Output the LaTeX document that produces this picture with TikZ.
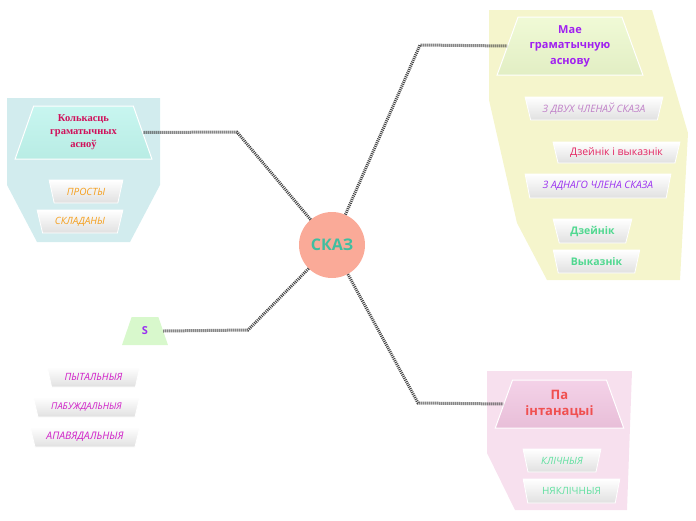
\documentclass[tikz,border=0pt]{standalone}
\usepackage{fontspec}
\setmainfont{Open Sans}
\newfontfamily\serifbold{Liberation Serif}
\usetikzlibrary{shapes.geometric}
\definecolor{skazfill}{RGB}{250,170,152}
\definecolor{skaztext}{RGB}{64,190,160}
\definecolor{bgcyan}{RGB}{210,236,238}
\definecolor{bgyellow}{RGB}{245,245,204}
\definecolor{bgpink}{RGB}{247,224,238}
\definecolor{linkgray}{RGB}{70,70,70}
\definecolor{purpleA}{RGB}{160,32,240}
\definecolor{lilac}{RGB}{192,128,200}
\definecolor{crimson}{RGB}{228,40,100}
\definecolor{violet}{RGB}{154,48,240}
\definecolor{mint}{RGB}{80,216,144}
\definecolor{crimsonB}{RGB}{208,16,90}
\definecolor{amber}{RGB}{245,160,32}
\definecolor{magentaC}{RGB}{208,32,200}
\definecolor{redD}{RGB}{240,80,80}
\definecolor{mintD}{RGB}{96,224,160}
\begin{document}
\begin{tikzpicture}[
  x=1pt, y=-1pt,
  every node/.style={inner sep=1pt, font=\fontsize{10}{12}\selectfont},
  hdr/.style={trapezium, trapezium stretches=true, draw=white, line width=1pt,
    align=center, font=\fontsize{11}{13.5}\selectfont\bfseries},
  leaf/.style={trapezium, trapezium stretches=true, shape border rotate=180,
    trapezium left angle=71, trapezium right angle=71, draw=white, line width=0.8pt,
    top color=white, bottom color=black!12, minimum height=23pt},
  link/.style={draw=linkgray, line width=3pt, dash pattern=on 1pt off 1pt}
]
\useasboundingbox (0,0) rectangle (696,520);
\fill[bgyellow] (489,10) -- (652,10) -- (688,133) -- (680,280) -- (547,280)
  -- (517,223) -- (489,100) -- cycle;
\fill[bgcyan] (7,98) -- (160,98) -- (160,185) -- (130,242) -- (37,242)
  -- (7,185) -- cycle;
\fill[bgpink] (487,371) -- (632,371) -- (627,510) -- (515,510) -- (487,453) -- cycle;

\node[circle, fill=skazfill, minimum size=66pt, text=skaztext,
  font=\fontsize{16}{18}\selectfont\bfseries] (skaz) at (332,245) {СКАЗ};

\node[hdr, trapezium left angle=69, trapezium right angle=69,
  minimum width=146pt, minimum height=58pt,
  top color={rgb,255:red,240;green,250;blue,214}, bottom color={rgb,255:red,226;green,238;blue,196},
  text=purpleA, font=\fontsize{11}{15.5}\selectfont\bfseries]
  (mae) at (570,46) {Мае\\граматычную\\аснову};
\node[leaf, minimum width=138pt, text=lilac, font=\fontsize{10.2}{12}\selectfont\itshape]
  (dvuh) at (594,108.5) {З ДВУХ ЧЛЕНАЎ СКАЗА};
\node[leaf, minimum width=127pt, minimum height=21pt, text=crimson,
  font=\fontsize{10.5}{12}\selectfont] (dzvyk) at (616.5,152.5) {Дзейнік і выказнік};
\node[leaf, minimum width=146pt, minimum height=24pt, text=violet,
  font=\fontsize{10.2}{12}\selectfont\itshape] (adnago) at (598,186) {З АДНАГО ЧЛЕНА СКАЗА};
\node[leaf, minimum width=79pt, minimum height=24pt, text=mint,
  font=\fontsize{10.5}{12}\selectfont\bfseries] (dzeinik) at (592.5,231) {Дзейнік};
\node[leaf, minimum width=87pt, text=mint,
  font=\fontsize{10.5}{12}\selectfont\bfseries] (vykaznik) at (596.5,261.5) {Выказнік};

\node[hdr, trapezium left angle=71, trapezium right angle=71,
  minimum width=137pt, minimum height=53pt,
  top color={rgb,255:red,200;green,246;blue,240}, bottom color={rgb,255:red,184;green,236;blue,228},
  text=crimsonB, font=\fontsize{10.5}{13}\selectfont\serifbold\bfseries]
  (kolkasc) at (83.5,132.5) {Колькасць\\граматычных\\асноў};
\node[leaf, minimum width=74pt, text=amber, font=\fontsize{10}{12}\selectfont\itshape]
  (prosty) at (86,191.5) {ПРОСТЫ};
\node[leaf, minimum width=86pt, text=amber, font=\fontsize{10}{12}\selectfont\itshape]
  (skladany) at (80,221.5) {СКЛАДАНЫ};

\node[trapezium, trapezium stretches=true, trapezium left angle=74, trapezium right angle=74,
  minimum width=46pt, minimum height=28pt, fill={rgb,255:red,216;green,248;blue,204},
  text=violet, font=\fontsize{11}{13}\selectfont\bfseries] (meta) at (145,331) {S};
\node[leaf, minimum width=93pt, minimum height=20pt, text=magentaC,
  font=\fontsize{10}{12}\selectfont\itshape] (pytalnyja) at (93.5,377) {ПЫТАЛЬНЫЯ};
\node[leaf, minimum width=107pt, minimum height=20pt, text=magentaC,
  font=\fontsize{9.3}{11}\selectfont\itshape] (pabuzh) at (86.5,407) {ПАБУЖДАЛЬНЫЯ};
\node[leaf, minimum width=110pt, minimum height=20pt, text=magentaC,
  font=\fontsize{10.4}{12}\selectfont\itshape] (apavjad) at (85,437) {АПАВЯДАЛЬНЫЯ};

\node[hdr, trapezium left angle=67, trapezium right angle=67,
  minimum width=129pt, minimum height=48pt,
  top color={rgb,255:red,244;green,210;blue,232}, bottom color={rgb,255:red,232;green,190;blue,216},
  text=redD, font=\fontsize{13}{16.5}\selectfont\bfseries] (intan) at (559.5,404) {Па\\інтанацыі};
\node[leaf, minimum width=78pt, text=mintD, font=\fontsize{10}{12}\selectfont\itshape]
  (klichnyja) at (562,460.5) {КЛІЧНЫЯ};
\node[leaf, minimum width=97pt, minimum height=24pt, text=mintD]
  (njaklichnyja) at (571.5,491) {НЯКЛІЧНЫЯ};

\draw[link] (skaz) -- (420,45) -- (mae.west);
\draw[link] (skaz) -- (237,132) -- (kolkasc.east);
\draw[link] (skaz) -- (248,330) -- (meta.east);
\draw[link] (skaz) -- (418,403) -- (intan.west);
\end{tikzpicture}
\end{document}
